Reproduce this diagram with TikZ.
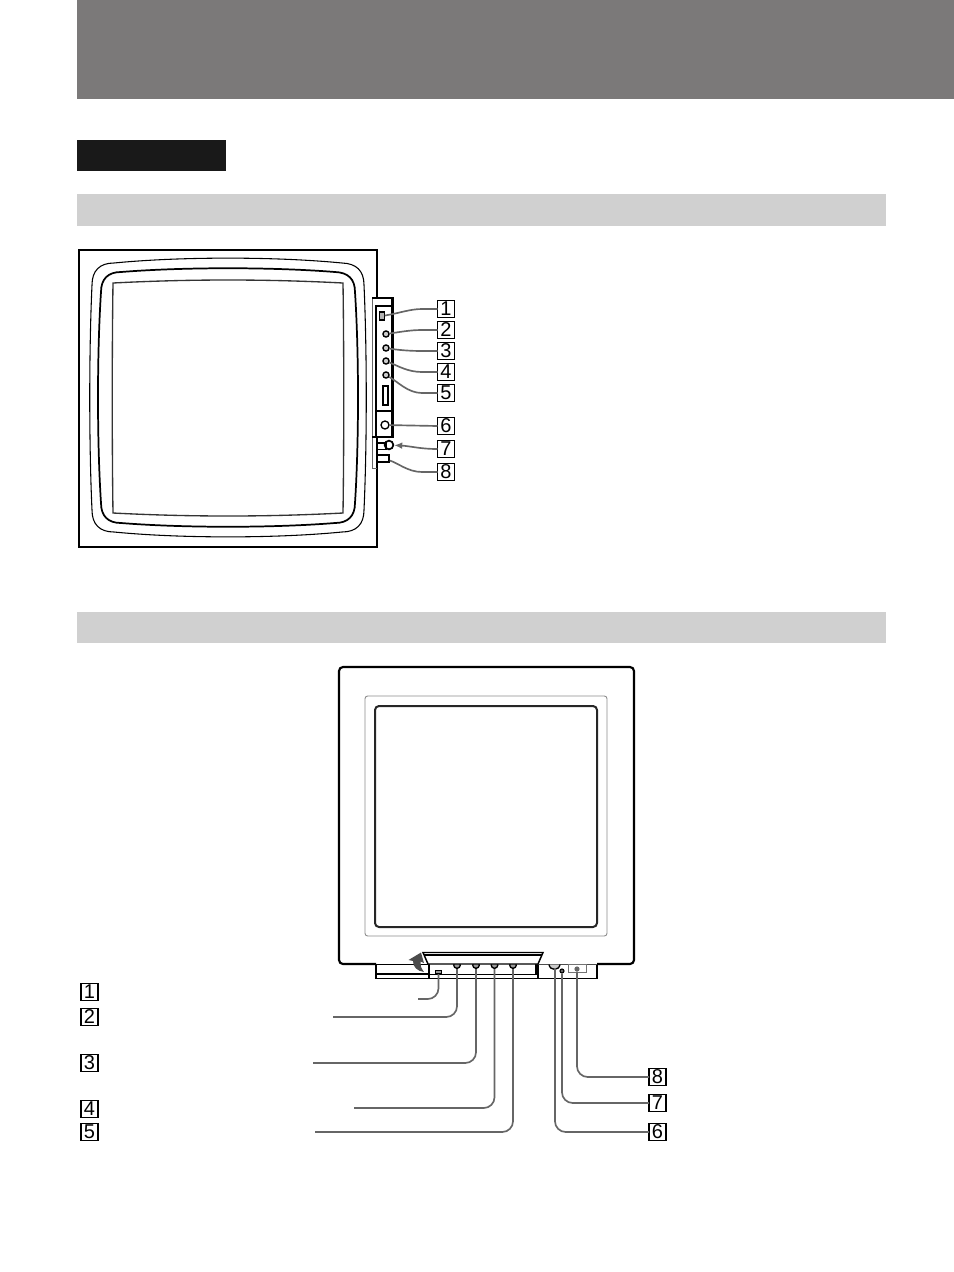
\documentclass[tikz,border=0pt]{standalone}
\usepackage{fontspec}
\setmainfont{Liberation Sans}
\usetikzlibrary{arrows.meta, positioning}

\definecolor{bandgray}{HTML}{7B7979}
\definecolor{bargray}{HTML}{D0D0D0}
\definecolor{leadgray}{HTML}{666666}

\tikzset{
  numbox/.style={draw, line width=0.9pt, fill=white, minimum size=12.75pt, inner sep=0pt, outer sep=0pt, font=\fontsize{15}{16}\selectfont},
  leader/.style={draw=leadgray, line width=1.25pt},
  knob/.style={circle, draw, line width=1pt, fill=black!20, minimum size=4.6pt, inner sep=0pt},
  dotknob/.style={circle, draw, line width=0.8pt, fill=leadgray, minimum size=3pt, inner sep=0pt},
  thick line/.style={line width=2pt},
  thin line/.style={line width=0.8pt},
}

% one bowed outline of the tube: half width, half height, corner, bow of the sides, bow of top and bottom
\newcommand{\bezel}[5]{
  ({228-#1+#3},{397.5-#2})
  .. controls ({228-#1*0.35},{397.5-#2-#5}) and ({228+#1*0.35},{397.5-#2-#5}) .. ({228+#1-#3},{397.5-#2})
  .. controls ({228+#1-#3*0.35},{397.5-#2+#3*0.02}) and ({228+#1},{397.5-#2+#3*0.35}) .. ({228+#1},{397.5-#2+#3})
  .. controls ({228+#1+#4},{397.5-#2*0.35}) and ({228+#1+#4},{397.5+#2*0.35}) .. ({228+#1},{397.5+#2-#3})
  .. controls ({228+#1},{397.5+#2-#3*0.35}) and ({228+#1-#3*0.35},{397.5+#2}) .. ({228+#1-#3},{397.5+#2})
  .. controls ({228+#1*0.35},{397.5+#2+#5}) and ({228-#1*0.35},{397.5+#2+#5}) .. ({228-#1+#3},{397.5+#2})
  .. controls ({228-#1+#3*0.35},{397.5+#2}) and ({228-#1},{397.5+#2-#3*0.35}) .. ({228-#1},{397.5+#2-#3})
  .. controls ({228-#1-#4},{397.5+#2*0.35}) and ({228-#1-#4},{397.5-#2*0.35}) .. ({228-#1},{397.5-#2+#3})
  .. controls ({228-#1},{397.5-#2+#3*0.35}) and ({228-#1+#3*0.35},{397.5-#2}) .. cycle
}

\begin{document}
\begin{tikzpicture}[x=0.75pt, y=-0.75pt]
  \useasboundingbox (0,0) rectangle (954,1272);

  % Header bands
  \fill[bandgray] (77,0) rectangle (954,99);
  \fill[black!90] (77,140) rectangle (226,171);
  \fill[bargray] (77,194) rectangle (886,226);
  \fill[bargray] (77,612) rectangle (886,643);

  % Front view
  \draw[thick line] (377,298) -- (377,250) -- (79,250) -- (79,547) -- (377,547) -- (377,437);
  \draw[thin line] \bezel{136}{134.5}{22}{3}{6.5};
  \draw[line width=1.3pt] \bezel{127}{125.5}{20}{4}{5};
  \draw[line width=1pt, draw=black!80] (113,283) .. controls (190,279) and (266,279) .. (343,283)
    .. controls (344,350) and (344,447) .. (343,513)
    .. controls (266,517) and (190,517) .. (113,513)
    .. controls (112,447) and (112,350) .. (113,283) -- cycle;

  % Side panel
  \fill[white] (372,298) rectangle (392,437);
  \draw[line width=0.7pt, draw=black!60] (372,298) -- (372,468) -- (377,468);
  \draw[line width=2pt] (372,298) -- (392.5,298) -- (392.5,437) -- (372,437);
  \draw[thin line] (376,437) -- (376,306) -- (391,306);
  \draw[thin line] (376,411) -- (391,411);
  \draw[thin line] (383,386) rectangle (388,405);
  \node[draw, line width=0.8pt, fill=black!30, minimum width=3.4pt, minimum height=6pt, inner sep=0pt] (sw1) at (382,316) {};
  \node[knob] (k2) at (386,334) {};
  \node[knob] (k3) at (386,348) {};
  \node[knob] (k4) at (386,361) {};
  \node[knob] (k5) at (386,375) {};
  \node[knob, fill=white, minimum size=6pt] (k6) at (385,425) {};
  \node[knob, fill=white, line width=1.3pt, minimum size=6.5pt] (k7) at (389,445) {};
  \draw[line width=1.2pt] (377,443) rectangle (386,449.5);
  \node[draw, line width=1.2pt, minimum width=9pt, minimum height=5pt, inner sep=0pt] (sw8) at (383,458.5) {};

  % Numbers of the front view
  \node[numbox] (a1) at (446,309) {1};
  \node[numbox] (a2) [below=3pt of a1] {2};
  \node[numbox] (a3) [below=3pt of a2] {3};
  \node[numbox] (a4) [below=3pt of a3] {4};
  \node[numbox] (a5) [below=3pt of a4] {5};
  \node[numbox] (a6) [below=12pt of a5] {6};
  \node[numbox] (a7) [below=4.5pt of a6] {7};
  \node[numbox] (a8) [below=4.5pt of a7] {8};

  % Connectors of the front view
  \draw[leader] (a1.west) -- (422,309) .. controls (410,309) and (400,313) .. (sw1);
  \draw[leader] (a2.west) -- (422,330) .. controls (410,330) and (400,332) .. (k2);
  \draw[leader] (a3.west) -- (422,351) .. controls (410,351) and (398,350) .. (k3);
  \draw[leader] (a4.west) -- (422,372) .. controls (408,372) and (398,366) .. (k4);
  \draw[leader] (a5.west) -- (422,393) .. controls (408,393) and (398,382) .. (k5);
  \draw[leader] (a6.west) -- (k6);
  \draw[leader, -{Latex[length=6pt,width=5pt]}] (a7.west) .. controls (420,449) and (410,446) .. (k7);
  \draw[leader] (a8.west) -- (422,472) .. controls (408,472) and (398,463) .. (sw8);

  % Rear view
  \draw[line width=1.6pt, rounded corners=3pt] (376,964) -- (339,964) -- (339,667) -- (634,667) -- (634,964) -- (597,964);
  \draw[line width=0.7pt, draw=black!45, rounded corners=2pt] (365,696) rectangle (607,936);
  \draw[line width=1.5pt, draw=black!85, rounded corners=3pt] (375,706) rectangle (597,927);

  % Lower part and flap
  \draw[line width=1.4pt] (376,964) -- (376,978.5) -- (597,978.5) -- (597,964);
  \draw[thin line] (376,974) -- (430,974);
  \draw[thin line] (376,964.5) -- (428,964.5);
  \draw[thin line] (429,964) -- (429,978);
  \draw[thin line] (429,974.5) -- (536,974.5) -- (536,964);
  \draw[thin line] (538,964) -- (538,978);
  \draw[line width=0.6pt, draw=black!70] (538,964.5) -- (597,964.5);

  \node[draw, line width=0.7pt, fill=black!40, minimum width=4pt, minimum height=2.5pt, inner sep=0pt] (sw1b) at (438.5,972) {};
  \node[knob, fill=black!40, minimum size=5pt] (r2) at (457,965) {};
  \node[knob, fill=black!40, minimum size=5pt] (r3) at (476,965) {};
  \node[knob, fill=black!40, minimum size=5pt] (r4) at (494.5,965) {};
  \node[knob, fill=black!40, minimum size=5pt] (r5) at (513,965) {};
  \draw[line width=1pt, fill=black!20] (549,964.5) .. controls (550,971) and (559,971) .. (560,964.5);
  \coordinate (r6) at (555,968);
  \node[dotknob] (r7) at (562,971) {};
  \node[draw=black!55, line width=0.7pt, minimum width=13.5pt, minimum height=6.5pt, inner sep=0pt] (box8) at (577.5,968.5) {};
  \node[dotknob, draw=leadgray] (r8) at (577,969) {};

  \fill[white] (423,952) -- (543,952) -- (538,964) -- (428,964) -- cycle;
  \draw[line width=1.1pt] (423,952.5) -- (543,952.5) -- (538,964) -- (428,964) -- cycle;
  \draw[thin line] (424,955) -- (542,955);

  % Lift arrow
  \fill[black!70] (421,952.5) -- (408.5,960) -- (413,961) .. controls (413,967) and (417,971) .. (424,972)
    .. controls (421,968) and (420,965) .. (420.5,961.5) -- (424,963) -- cycle;

  % Numbers of the rear view
  \node[numbox] (b1) at (89.5,992) {1};
  \node[numbox] (b2) [below=6pt of b1] {2};
  \node[numbox] (b3) [below=21.75pt of b2] {3};
  \node[numbox] (b4) [below=21.75pt of b3] {4};
  \node[numbox] (b5) [below=4.5pt of b4] {5};

  \node[numbox] (c6) at (657.5,1132) {6};
  \node[numbox] (c7) [above=9pt of c6] {7};
  \node[numbox] (c8) [above=6.75pt of c7] {8};

  % Free ends of the rear connectors
  \coordinate (e1) at (418,999);
  \coordinate (e2) at (333,1017);
  \coordinate (e3) at (313,1063);
  \coordinate (e4) at (354,1108);
  \coordinate (e5) at (315,1132);

  % Connectors of the rear view
  \draw[leader, rounded corners=8pt] (sw1b) |- (e1);
  \draw[leader, rounded corners=8pt] (r2) |- (e2);
  \draw[leader, rounded corners=8pt] (r3) |- (e3);
  \draw[leader, rounded corners=8pt] (r4) |- (e4);
  \draw[leader, rounded corners=8pt] (r5) |- (e5);
  \draw[leader, rounded corners=8pt] (r6) |- (c6);
  \draw[leader, rounded corners=8pt] (r7) |- (c7);
  \draw[leader, rounded corners=8pt] (r8) |- (c8);
\end{tikzpicture}
\end{document}
